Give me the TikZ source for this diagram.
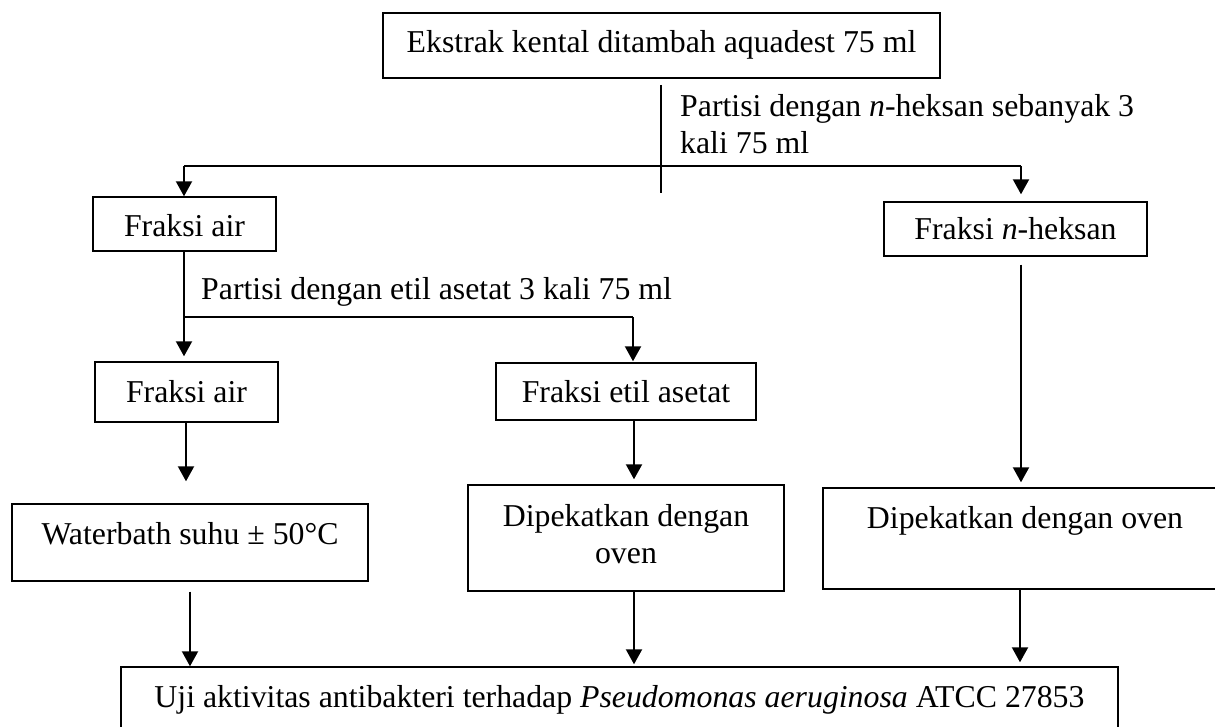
\documentclass[tikz,border=0pt]{standalone}
\usepackage{fontspec}
\setmainfont{Liberation Serif}
\usetikzlibrary{arrows.meta}
\begin{document}
\begin{tikzpicture}[x=1pt,y=-1pt,
  every node/.style={font=\fontsize{31.8pt}{37pt}\selectfont},
  box/.style={draw,line width=1.4pt,inner sep=0pt,anchor=base},
  conn/.style={line width=2pt},
  arr/.style={conn,-{Triangle[width=16pt,length=15pt]}},
  lbl/.style={inner sep=0pt,anchor=base west}]
\useasboundingbox (0,0) rectangle (1215,727);
% boxes
\node[box,minimum width=557pt,text height=40pt,text depth=25pt] (top) at (661.5,53) {Ekstrak kental ditambah aquadest 75 ml};
\node[box,minimum width=183pt,text height=40pt,text depth=14pt] (fair1) at (184.5,237) {Fraksi air};
\node[box,minimum width=263pt,text height=38pt,text depth=16pt] (fhex) at (1015.5,240) {Fraksi \textit{n}-heksan};
\node[box,minimum width=183pt,text height=40pt,text depth=20pt] (fair2) at (186.5,402) {Fraksi air};
\node[box,minimum width=260pt,text height=39pt,text depth=18pt] (fetil) at (626,402) {Fraksi etil asetat};
\node[box,minimum width=356pt,text height=40pt,text depth=37pt] (fwb) at (190,544) {Waterbath suhu ± 50°C\hspace{18pt}};
\node[box,minimum width=316pt,text height=41pt,text depth=65pt] (fdmid) at (626,526) {\begin{tabular}[t]{@{}c@{}}Dipekatkan dengan\\oven\end{tabular}};
\node[box,minimum width=404pt,text height=40pt,text depth=61pt] (fdright) at (1025,528) {Dipekatkan dengan oven};
\node[box,minimum width=997pt,text height=40pt,text depth=33pt] (uji) at (619.5,707) {Uji aktivitas antibakteri terhadap \textit{Pseudomonas aeruginosa} ATCC 27853};
% labels
\node[lbl] (lab1) at (680,117) {\begin{tabular}[t]{@{}l@{}}Partisi dengan \textit{n}-heksan sebanyak 3\\kali 75 ml\end{tabular}};
\node[lbl] (lab2) at (201,300) {Partisi dengan etil asetat 3 kali 75 ml};
% coordinates
\coordinate (t1) at (661,85);
\coordinate (t2) at (661,193);
\coordinate (jl) at (184,166);
\coordinate (jr) at (1021,166);
\coordinate (j2) at (184,317);
\coordinate (j3) at (633,317);
\coordinate (colA) at (186,0);
\coordinate (colB) at (190,0);
\coordinate (colC) at (634,0);
\coordinate (colD) at (1021,0);
\coordinate (colE) at (1020,0);
% connectors
\draw[conn] (t1) -- (t2);
\draw[conn] (jl) -- (jr);
\draw[arr] (jl) -- (jl |- fair1.north);
\draw[arr,shorten >=7pt] (jr) -- (jr |- fhex.north);
\draw[arr,shorten >=5pt] (fair1.south -| jl) -- (fair2.north -| jl);
\draw[conn] (j2) -- (j3);
\draw[arr,shorten >=1pt] (j3) -- (j3 |- fetil.north);
\draw[arr,shorten >=22pt] (fair2.south -| colA) -- (fwb.north -| colA);
\draw[arr,shorten <=10pt] (fwb.south -| colB) -- (uji.north -| colB);
\draw[arr,shorten >=5pt] (fetil.south -| colC) -- (fdmid.north -| colC);
\draw[arr,shorten >=2pt] (fdmid.south -| colC) -- (uji.north -| colC);
\draw[arr,shorten <=8pt,shorten >=5pt] (fhex.south -| colD) -- (fdright.north -| colD);
\draw[arr,shorten >=4pt] (fdright.south -| colE) -- (uji.north -| colE);
\end{tikzpicture}
\end{document}
